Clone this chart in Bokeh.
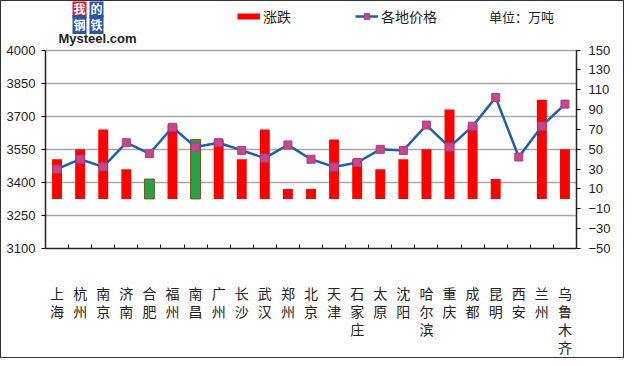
from bokeh.plotting import figure
from bokeh.models import Range1d, LinearAxis, FixedTicker, Legend, LegendItem, Label
from bokeh.embed import file_html
from bokeh.resources import INLINE

cities = ["上海", "杭州", "南京", "济南", "合肥", "福州", "南昌", "广州", "长沙", "武汉",
          "郑州", "北京", "天津", "石家庄", "太原", "沈阳", "哈尔滨", "重庆", "成都", "昆明",
          "西安", "兰州", "乌鲁木齐"]
# bar heights (右轴, 涨跌)
change = [40, 50, 70, 30, 20, 75, 60, 60, 40, 70, 10, 10, 60, 40, 30, 40, 50, 90, 75, 20, 0, 100, 50]
# bars drawn in green in the reference
falling = ["合肥", "南昌"]
# line values (左轴, 各地价格)
price = [3460, 3505, 3470, 3580, 3530, 3650, 3560, 3580, 3545, 3510, 3570, 3505, 3470, 3490,
         3550, 3545, 3660, 3560, 3655, 3785, 3515, 3655, 3755]
left_ticks = [3100, 3250, 3400, 3550, 3700, 3850, 4000]
right_ticks = [-50, -30, -10, 10, 30, 50, 70, 90, 110, 130, 150]

n = len(cities)
xs = list(range(n))
fills = ["#22A24A" if c in falling else "#FF0000" for c in cities]
edges = ["#8A4A1C" if c in falling else "rgba(0,0,0,0)" for c in cities]

FONT_NUM = "Liberation Sans"
FONT_CJK = "Noto Sans CJK SC"

# plot area: 200px for the axis span, plus a 49px strip above it for legend / logo
CHART_PX = 200
TOP_PX = 49
l_lo, l_hi = left_ticks[0], left_ticks[-1]
r_lo, r_hi = right_ticks[0], right_ticks[-1]
l_top = l_hi + (l_hi - l_lo) * TOP_PX / CHART_PX
r_top = r_hi + (r_hi - r_lo) * TOP_PX / CHART_PX

p = figure(width=624, height=358, x_range=Range1d(-0.5, n - 0.5), y_range=Range1d(l_lo, l_top),
           output_backend="svg", toolbar_location=None, title=None,
           min_border_left=44, min_border_right=49, min_border_top=0, min_border_bottom=109)
p.outline_line_color = None
p.background_fill_color = "white"
p.border_fill_color = "white"
p.styles = {"border": "1px solid #333"}

p.extra_y_ranges = {"chg": Range1d(r_lo, r_top)}

# grid
p.xgrid.visible = False
p.ygrid.grid_line_color = "#A8A8A8"
p.ygrid.grid_line_width = 1.5

# x axis
xa = p.xaxis[0]
xa.ticker = FixedTicker(ticks=xs, minor_ticks=[i + 0.5 for i in range(n - 1)])
xa.major_label_overrides = {i: "\n".join(c) for i, c in enumerate(cities)}
xa.major_tick_line_color = None
xa.major_tick_out = 0
xa.major_tick_in = 0
xa.minor_tick_in = 4
xa.minor_tick_out = 0
xa.minor_tick_line_color = "#222"
xa.axis_line_color = "#222"
xa.axis_line_width = 1.5
xa.major_label_standoff = 34
xa.major_label_text_font = FONT_CJK
xa.major_label_text_font_size = "14px"
xa.major_label_text_color = "#222"
xa.major_label_text_line_height = 0.9

# left axis
ya = p.yaxis[0]
ya.ticker = FixedTicker(ticks=left_ticks)
ya.bounds = (l_lo, l_hi)
ya.major_tick_out = 4
ya.major_tick_in = 0
ya.minor_tick_line_color = None
ya.axis_line_color = "#222"
ya.axis_line_width = 1.5
ya.major_label_text_font = FONT_NUM
ya.major_label_text_font_size = "13px"
ya.major_label_text_color = "#222"
ya.major_label_standoff = 6

# right axis
ra = LinearAxis(y_range_name="chg", ticker=FixedTicker(ticks=right_ticks), bounds=(r_lo, r_hi))
ra.major_tick_out = 4
ra.major_tick_in = 0
ra.minor_tick_line_color = None
ra.axis_line_color = "#222"
ra.axis_line_width = 1.5
ra.major_label_text_font = FONT_NUM
ra.major_label_text_font_size = "13px"
ra.major_label_text_color = "#222"
ra.major_label_standoff = 8
p.add_layout(ra, "right")

# bars
p.vbar(x=xs, top=change, bottom=0, width=0.43, y_range_name="chg",
       fill_color=fills, line_color=edges, line_width=1)

# price line
lr = p.line(xs, price, line_color="#1F5EB0", line_width=2.5)
sr = p.scatter(xs, price, marker="square", size=8, fill_color="#C8468C", line_color="#A8407E")

# legend (proxy for the bar key: one NaN point, so nothing is drawn in the plot)
leg_bar = p.line(x=[float("nan")], y=[float("nan")], line_color="#FF0000", line_width=6)
legend = Legend(items=[LegendItem(label="涨跌", renderers=[leg_bar]),
                       LegendItem(label="各地价格", renderers=[lr, sr])],
                orientation="horizontal", location=(192, 222), spacing=64,
                glyph_width=23, glyph_height=14, label_standoff=3,
                border_line_color=None, background_fill_alpha=0, padding=0, margin=0,
                label_text_font=FONT_CJK, label_text_font_size="14px", label_text_color="#222")
p.add_layout(legend, "center")

p.add_layout(Label(x=476, y=232, x_units="screen", y_units="screen", text="单位：万吨",
                   text_font=FONT_CJK, text_font_size="13px", text_color="#222",
                   text_align="center", text_baseline="middle"))

# logo
for ch, cx, cy, col in [("我", 34, 240, "#D8202A"), ("的", 51, 240, "#2A55A8"),
                        ("钢", 34, 224, "#2A55A8"), ("铁", 51, 224, "#2A55A8")]:
    p.add_layout(Label(x=cx, y=cy, x_units="screen", y_units="screen", text=ch,
                       text_font=FONT_CJK, text_font_size="12px", text_font_style="bold",
                       text_color="white", background_fill_color=col, padding=1,
                       text_align="center", text_baseline="middle"))
p.add_layout(Label(x=52, y=210, x_units="screen", y_units="screen", text="Mysteel.com",
                   text_font=FONT_NUM, text_font_size="13px", text_font_style="bold",
                   text_color="#222", text_align="center", text_baseline="middle"))

open("out.html", "w").write(file_html(p, INLINE))
